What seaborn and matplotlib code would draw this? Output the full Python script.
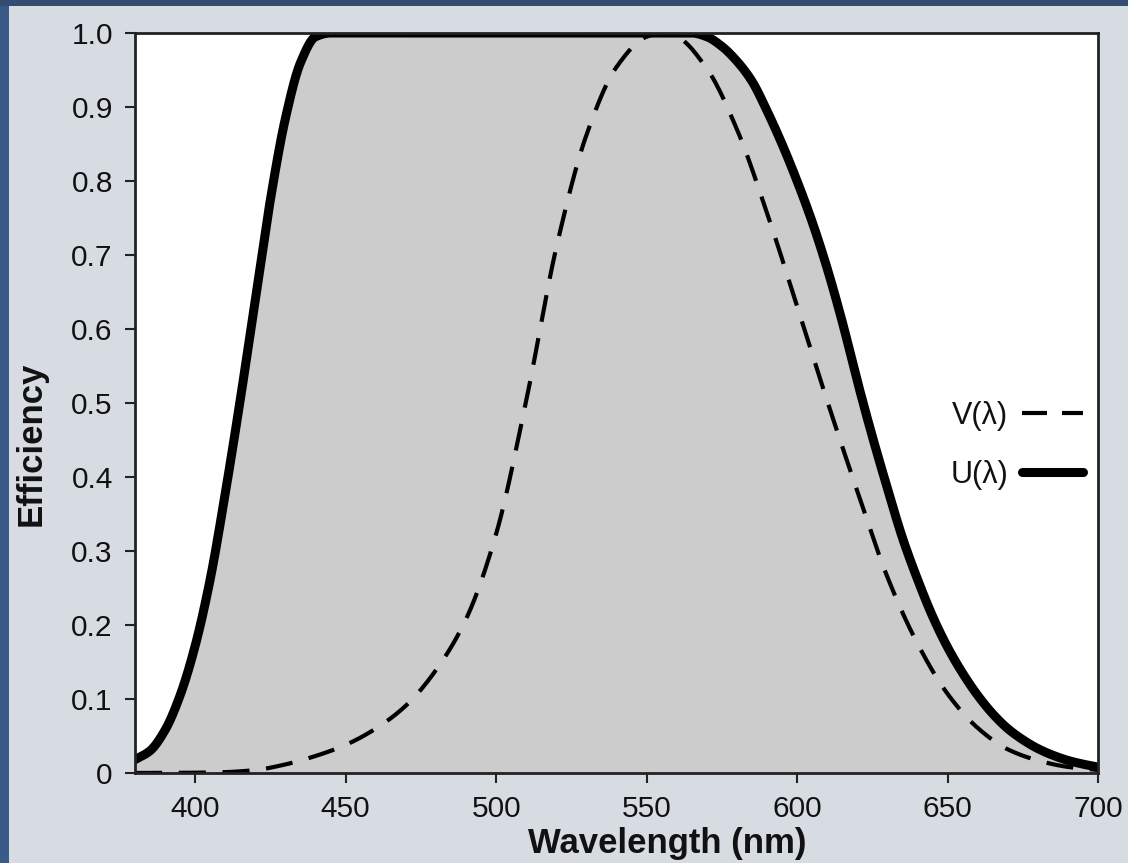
import numpy as np
import pandas as pd
import matplotlib
matplotlib.use("Agg")
import matplotlib.pyplot as plt
from matplotlib.patches import Rectangle
import seaborn as sns

# ---- data ----
v_wl = [380, 390, 400, 410, 420, 430, 440, 450, 460, 470, 480, 490, 500, 510,
        520, 530, 540, 550, 555, 560, 570, 580, 590, 600, 610, 620, 630, 640,
        650, 660, 670, 680, 690, 700]
v_eff = [0.00004, 0.00012, 0.0004, 0.0012, 0.004, 0.0116, 0.023, 0.038, 0.06,
         0.091, 0.139, 0.208, 0.323, 0.503, 0.710, 0.862, 0.954, 0.995, 1.0,
         0.995, 0.952, 0.870, 0.757, 0.631, 0.503, 0.381, 0.265, 0.175, 0.107,
         0.061, 0.032, 0.017, 0.0082, 0.0041]

u_wl = [380, 385, 390, 395, 400, 405, 410, 415, 420, 425, 430, 435, 440, 445,
        560, 565, 570, 575, 580, 585, 590, 595, 600, 605, 610, 615, 620, 625,
        630, 635, 640, 645, 650, 655, 660, 665, 670, 675, 680, 685, 690, 695, 700]
u_eff = [0.018, 0.03, 0.058, 0.105, 0.172, 0.262, 0.378, 0.505, 0.64, 0.775,
         0.885, 0.96, 0.995, 1.0,
         1.0, 1.0, 0.995, 0.982, 0.962, 0.935, 0.895, 0.85, 0.80, 0.745, 0.682,
         0.61, 0.53, 0.455, 0.385, 0.318, 0.262, 0.212, 0.17, 0.135, 0.105,
         0.08, 0.06, 0.045, 0.033, 0.024, 0.017, 0.012, 0.008]

x_ticks = [400, 450, 500, 550, 600, 650, 700]
y_ticks = [0, 0.1, 0.2, 0.3, 0.4, 0.5, 0.6, 0.7, 0.8, 0.9, 1.0]
y_tick_labels = ["0", "0.1", "0.2", "0.3", "0.4", "0.5", "0.6", "0.7", "0.8", "0.9", "1.0"]


def pchip(xs, ys, step=0.25):
    """Monotone cubic (Fritsch-Carlson) curve through the read points."""
    xs = np.asarray(xs, float); ys = np.asarray(ys, float)
    h = np.diff(xs)
    d = np.diff(ys) / h
    m = np.zeros_like(ys)
    for k in range(1, len(xs) - 1):
        if d[k - 1] * d[k] <= 0:
            m[k] = 0.0
        else:
            w1 = 2 * h[k] + h[k - 1]
            w2 = h[k] + 2 * h[k - 1]
            m[k] = (w1 + w2) / (w1 / d[k - 1] + w2 / d[k])
    m[0] = d[0]
    m[-1] = d[-1]
    xd = np.arange(xs[0], xs[-1] + step / 2, step)
    idx = np.clip(np.searchsorted(xs, xd, side="right") - 1, 0, len(xs) - 2)
    x0 = xs[idx]; hh = h[idx]
    t = (xd - x0) / hh
    y0, y1 = ys[idx], ys[idx + 1]
    m0, m1 = m[idx], m[idx + 1]
    h00 = 2 * t**3 - 3 * t**2 + 1
    h10 = t**3 - 2 * t**2 + t
    h01 = -2 * t**3 + 3 * t**2
    h11 = t**3 - t**2
    yd = h00 * y0 + h10 * hh * m0 + h01 * y1 + h11 * hh * m1
    return xd, np.clip(yd, 0, 1)


vx, vy = pchip(v_wl, v_eff)
ux, uy = pchip(u_wl, u_eff)
dfv = pd.DataFrame({"Wavelength": vx, "Efficiency": vy})
dfu = pd.DataFrame({"Wavelength": ux, "Efficiency": uy})

sns.set_theme(style="white")
plt.rcParams["font.family"] = ["Liberation Sans", "DejaVu Sans"]

fig = plt.figure(figsize=(11.28, 8.63), dpi=100, facecolor="#d7dce3")
# dark blue border strips (left and top)
fig.patches.append(Rectangle((0, 0), 9 / 1128, 1, transform=fig.transFigure,
                             facecolor="#3a5a88", edgecolor="none", zorder=-5))
fig.patches.append(Rectangle((0, 1 - 6 / 863), 1, 6 / 863, transform=fig.transFigure,
                             facecolor="#344c72", edgecolor="none", zorder=-5))
ax = fig.add_axes([135 / 1128, 1 - 773 / 863, (1098 - 135) / 1128, (773 - 33) / 863])
ax.set_facecolor("white")

ax.fill_between(dfu["Wavelength"], 0, dfu["Efficiency"], color="#cccccc", zorder=1, linewidth=0)
sns.lineplot(data=dfv, x="Wavelength", y="Efficiency", ax=ax, color="black",
             linewidth=3.0, label="V(λ)", zorder=3)
ax.lines[-1].set_dashes([6.5, 4.0])
sns.lineplot(data=dfu, x="Wavelength", y="Efficiency", ax=ax, color="black",
             linewidth=6.5, label="U(λ)", zorder=4, solid_capstyle="round")

ax.set_xlim(380, 700)
ax.set_ylim(0, 1.0)
ax.set_xticks(x_ticks)
ax.set_xticklabels([str(t) for t in x_ticks])
ax.set_yticks(y_ticks)
ax.set_yticklabels(y_tick_labels)
ax.tick_params(axis="both", direction="out", length=7, width=1.5, colors="#222222",
               labelsize=21.5, labelcolor="#111111", pad=9, bottom=True, left=True)
for s in ax.spines.values():
    s.set_visible(True)
    s.set_color("#222222")
    s.set_linewidth(2.0)
    s.set_zorder(5)

ax.set_xlabel("Wavelength (nm)", fontsize=25, fontweight="bold", color="#111111")
ax.set_ylabel("Efficiency", fontsize=25, fontweight="bold", color="#111111")
ax.xaxis.set_label_coords(0.553, -0.073)
ax.yaxis.set_label_coords(-0.091, 0.445)

leg = ax.legend(loc="center right", bbox_to_anchor=(1.013, 0.443), frameon=False,
                markerfirst=False, fontsize=22, handlelength=2.0, labelspacing=0.95,
                handletextpad=0.45)
for t in leg.get_texts():
    t.set_color("#111111")
leg.get_lines()[0].set_dashes([6.0, 3.6])

fig.savefig("out.png", dpi=100, facecolor=fig.get_facecolor())
